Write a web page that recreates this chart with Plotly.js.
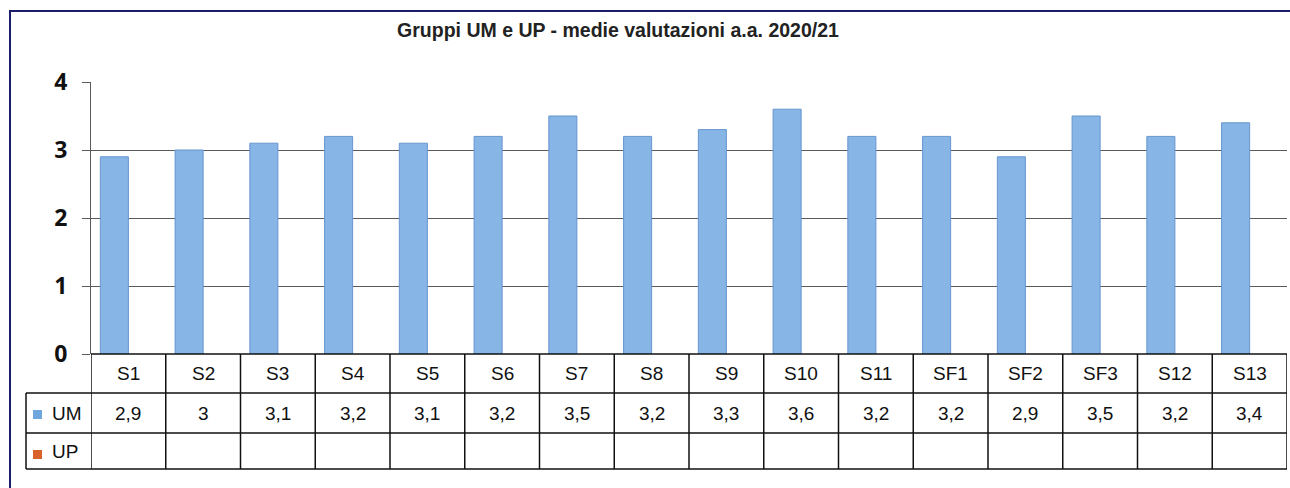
<!DOCTYPE html>
<html>
<head>
<meta charset="utf-8">
<script src="https://cdn.plot.ly/plotly-3.0.1.min.js"></script>
<style>html,body{margin:0;padding:0;background:#fff;}#chart{width:1290px;height:488px;}</style>
</head>
<body>
<div id="chart"></div>
<script>
// ---- data ----
var categories = ["S1","S2","S3","S4","S5","S6","S7","S8","S9","S10","S11","SF1","SF2","SF3","S12","S13"];
var valuesUM = [2.9, 3, 3.1, 3.2, 3.1, 3.2, 3.5, 3.2, 3.3, 3.6, 3.2, 3.2, 2.9, 3.5, 3.2, 3.4];
var valuesUP = [null, null, null, null, null, null, null, null, null, null, null, null, null, null, null, null];
var seriesNames = ["UM", "UP"];
var yTicks = [0, 1, 2, 3, 4];
var titleText = "Gruppi UM e UP - medie valutazioni a.a. 2020/21";

// ---- layout helpers (pixel -> paper) ----
var W = 1290, H = 488;
function px(x){ return x / W; }
function py(y){ return 1 - y / H; }

var colUM = "#86b5e6", colUP = "#d9622b";
var lineCol = "#111";
var rowHeaderTop = 354, rowUMTop = 393, rowUPTop = 433, rowBottom = 469;
var legendLeft = 26;

var traces = [
  {type: "bar", name: seriesNames[0], x: categories, y: valuesUM,
   marker: {color: colUM, line: {color: "#6796cf", width: 1}}, hoverinfo: "x+y", showlegend: false},
  {type: "bar", name: seriesNames[1], x: categories, y: valuesUP,
   marker: {color: colUP}, showlegend: false}
];

var shapes = [];
var annotations = [];

// outer chart border (right and bottom edges fall outside the picture)
shapes.push({type: "rect", xref: "paper", yref: "paper", x0: px(10), x1: 1.05, y0: -0.05, y1: py(11),
  line: {color: "#1b1f6b", width: 2}, layer: "below"});

var xd0 = px(91), xd1 = px(1287);
// horizontal table lines
shapes.push({type: "line", xref: "paper", yref: "paper", x0: xd0, x1: xd1, y0: py(rowHeaderTop), y1: py(rowHeaderTop), line: {color: lineCol, width: 1.5}});
[rowUMTop, rowUPTop, rowBottom].forEach(function(r){
  shapes.push({type: "line", xref: "paper", yref: "paper", x0: px(legendLeft), x1: xd1, y0: py(r), y1: py(r), line: {color: lineCol, width: 1.5}});
});
// vertical table lines (category boundaries)
for (var i = 0; i <= categories.length; i++) {
  shapes.push({type: "line", xref: "x", yref: "paper", x0: i - 0.5, x1: i - 0.5, y0: py(rowHeaderTop), y1: py(rowBottom), line: {color: lineCol, width: 1.5}});
}
// legend column left edge
shapes.push({type: "line", xref: "paper", yref: "paper", x0: px(legendLeft), x1: px(legendLeft), y0: py(rowUMTop), y1: py(rowBottom), line: {color: lineCol, width: 1.5}});

// legend keys
shapes.push({type: "rect", xref: "paper", yref: "paper", x0: px(33), x1: px(42), y0: py(419), y1: py(410), fillcolor: "#6fa6de", line: {width: 0}});
shapes.push({type: "rect", xref: "paper", yref: "paper", x0: px(33), x1: px(42), y0: py(459), y1: py(450), fillcolor: colUP, line: {width: 0}});

var tableFont = {family: "Liberation Sans, Arial, sans-serif", size: 19, color: "#111"};
annotations.push({xref: "paper", yref: "paper", x: px(50), y: py((rowUMTop + rowUPTop) / 2), xanchor: "left", yanchor: "middle", text: seriesNames[0], showarrow: false, font: tableFont});
annotations.push({xref: "paper", yref: "paper", x: px(50), y: py((rowUPTop + rowBottom) / 2), xanchor: "left", yanchor: "middle", text: seriesNames[1], showarrow: false, font: tableFont});

categories.forEach(function(c, i){
  annotations.push({xref: "x", yref: "paper", x: i, y: py((rowHeaderTop + rowUMTop) / 2), xanchor: "center", yanchor: "middle", text: c, showarrow: false, font: tableFont});
  annotations.push({xref: "x", yref: "paper", x: i, y: py((rowUMTop + rowUPTop) / 2), xanchor: "center", yanchor: "middle", text: String(valuesUM[i]).replace(".", ","), showarrow: false, font: tableFont});
  if (valuesUP[i] !== null) {
    annotations.push({xref: "x", yref: "paper", x: i, y: py((rowUPTop + rowBottom) / 2), xanchor: "center", yanchor: "middle", text: String(valuesUP[i]).replace(".", ","), showarrow: false, font: tableFont});
  }
});

var layout = {
  width: W, height: H,
  margin: {l: 0, r: 0, t: 0, b: 0},
  paper_bgcolor: "#fff", plot_bgcolor: "#fff",
  title: {text: "<b>" + titleText + "</b>", xref: "paper", yref: "paper", x: px(618), y: py(30), xanchor: "center", yanchor: "middle",
          font: {family: "Liberation Sans, Arial, sans-serif", size: 19.5, color: "#222"}},
  barmode: "group", bargap: 0.25, bargroupgap: 0,
  xaxis: {domain: [xd0, xd1], type: "category", range: [-0.5, categories.length - 0.5],
          showticklabels: false, showgrid: false, zeroline: false, showline: false, ticks: "", fixedrange: true},
  yaxis: {domain: [py(354), py(82)], range: [0, 4], tickvals: yTicks, ticktext: yTicks.map(String),
          showgrid: true, gridcolor: "#5a5a5a", gridwidth: 1, zeroline: false,
          showline: true, linecolor: "#5a5a5a", linewidth: 1,
          ticks: "outside", ticklen: 8, tickcolor: "#5a5a5a", ticklabelstandoff: 10,
          tickfont: {family: "Open Sans, DejaVu Sans, sans-serif", size: 23, color: "#111", weight: "bold"}, fixedrange: true},
  shapes: shapes,
  annotations: annotations
};

Plotly.newPlot("chart", traces, layout, {displayModeBar: false, staticPlot: true});
</script>
</body>
</html>
